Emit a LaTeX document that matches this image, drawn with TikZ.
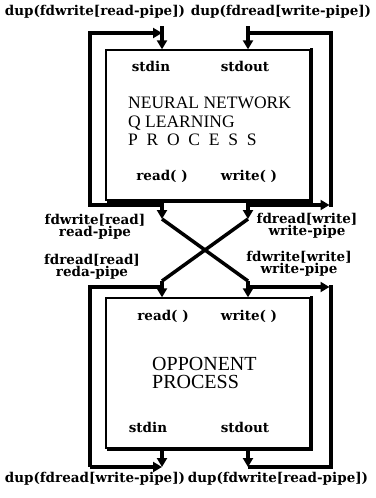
\documentclass[tikz,border=0pt]{standalone}
\usepackage{fontspec}
\setmainfont{Liberation Serif}
\newfontfamily\lblfont{DejaVu Serif}
\newfontfamily\spacedfont[LetterSpace=50]{Liberation Serif}
\usetikzlibrary{positioning, calc, arrows.meta}
\tikzset{process/.style={
          draw,
          rectangle,
          line width=1.4pt,
          minimum width=204pt,
          minimum height=150pt
     }}
\tikzset{shadow/.style={line width=3pt}}
\tikzset{pipe/.style={line width=3.5pt}}
\tikzset{lbl/.style={ % small bold labels
        font=\lblfont\bfseries\fontsize{13.5}{12.5}\selectfont,
        inner sep=0pt,
        align=center
    }}
\tikzset{title/.style={
        font=\fontsize{17.5}{18.5}\selectfont,
        inner sep=0pt,
        align=left
    }}
\tikzset{bigtitle/.style={
        font=\fontsize{20}{18.5}\selectfont,
        inner sep=0pt,
        align=left
    }}
\tikzstyle{arrow} = [pipe,-{Triangle[length=9pt,width=10pt]}]

\begin{document}
\begin{tikzpicture}[x=1pt,y=-1pt]
\useasboundingbox (0,0) rectangle (375,498);

% the two processes
\node (nnq) [process] at (208,125) {};
\node (opp) [process] at (208,373) {};
\draw [shadow] ($(nnq.north east)+(1,-1)$) -- ($(nnq.south east)+(1,1)$) -- ($(nnq.south west)+(2,1)$);
\draw [shadow] ($(opp.north east)+(1,-1)$) -- ($(opp.south east)+(1,1)$) -- ($(opp.south west)+(2,1)$);

\node (nnin) [lbl] at (151,66) {stdin};
\node (nnout) [lbl] at (245,66) {stdout};
\node (nntitle) [title, anchor=north west] at (128,97) {NEURAL NETWORK\\Q LEARNING\\{\spacedfont PROCESS}};
\node (nnrd) [lbl] at (162,176) {read( )};
\node (nnwr) [lbl] at (249,176) {write( )};

\node (oprd) [lbl] at (163,316) {read( )};
\node (opwr) [lbl] at (249,316) {write( )};
\node (optitle) [bigtitle, anchor=north west] at (152,357) {OPPONENT\\PROCESS};
\node (opin) [lbl] at (148,427) {stdin};
\node (opout) [lbl] at (245,427) {stdout};

% dup labels
\node (dupin) [lbl, anchor=base] at (95,15) {dup(fdwrite[read-pipe])};
\node (dupout) [lbl, anchor=base] at (281,15) {dup(fdread[write-pipe])};
\node (dupin2) [lbl, anchor=base] at (95,482) {dup(fdread[write-pipe])};
\node (dupout2) [lbl, anchor=base] at (278,482) {dup(fdwrite[read-pipe])};

% pipe labels
\node (fwr) [lbl] at (95,227) {fdwrite[read]\\read-pipe};
\node (frw) [lbl] at (307,226) {fdread[write]\\write-pipe};
\node (frr) [lbl] at (92,267) {fdread[read]\\reda-pipe};
\node (fww) [lbl] at (299,264) {fdwrite[write]\\write-pipe};

% corners and bends
\coordinate (ia) at (162,26);
\coordinate (ib) at (248,26);
\coordinate (lt) at (90,33);
\coordinate (rt) at (331,33);
\coordinate (la) at (162,205);
\coordinate (ra) at (248,205);
\coordinate (xa) at (162,219);
\coordinate (xb) at (248,219);
\coordinate (ya) at (162,281);
\coordinate (yb) at (248,281);
\coordinate (lc) at (162,287);
\coordinate (rc) at (248,287);
\coordinate (lb) at (90,467);
\coordinate (rb) at (331,467);

% neural network side
\draw [arrow] (ia) -- (nnq.north -| ia);
\draw [arrow] (ib) -- (nnq.north -| ib);
\draw [arrow] (la) -| (lt) -- (lt -| xa);
\draw [arrow, shorten >=1.5pt] (ra) -- (ra -| rt);
\draw [pipe] ($(ra -| rt)+(0,2)$) -- (rt) -- (rt -| xb);

% crossing pipes
\draw [arrow] (nnq.south -| xa) -- (xa);
\draw [arrow] (nnq.south -| xb) -- (xb);
\draw [pipe] (xa) -- (yb);
\draw [pipe] (xb) -- (ya);
\draw [arrow] (ya) -- (opp.north -| ya);
\draw [arrow] (yb) -- (opp.north -| yb);

% opponent side
\draw [pipe] (lc) -| (lb);
\draw [arrow] (lb) -- (lb -| xa);
\draw [arrow, shorten >=1.5pt] (rc) -- (rc -| rt);
\draw [pipe] ($(rc -| rt)+(0,-2)$) -- (rb) -- (rb -| xb);
\draw [arrow] (opp.south -| xa) -- (lb -| xa);
\draw [arrow] (opp.south -| xb) -- (rb -| xb);
\end{tikzpicture}
\end{document}
